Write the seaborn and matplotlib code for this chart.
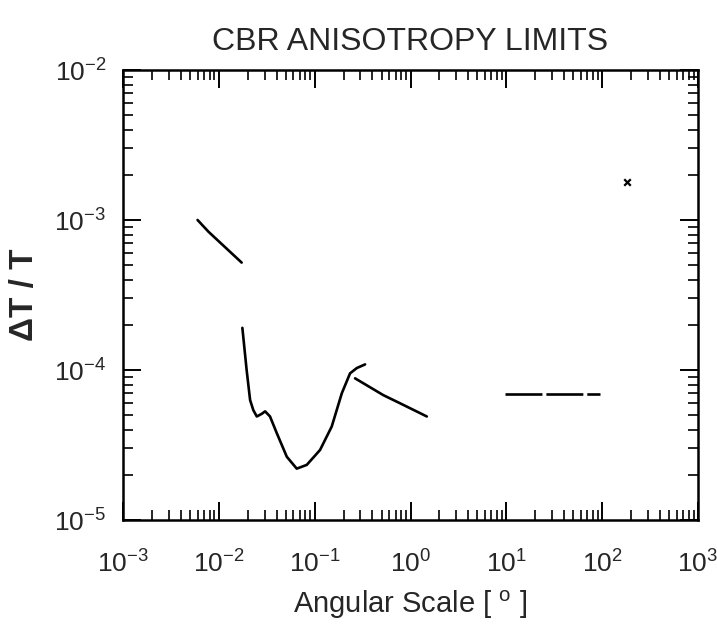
import numpy as np
import pandas as pd
import matplotlib
matplotlib.use("Agg")
import matplotlib.pyplot as plt
import matplotlib.transforms as mtransforms
import seaborn as sns
from matplotlib.ticker import LogLocator, LogFormatterSciNotation, NullFormatter

# ---- data ----
seg1_x = [0.0060, 0.0078, 0.0173]
seg1_y = [1.0e-3, 8.35e-4, 5.2e-4]

seg2_x = [0.0176, 0.0195, 0.0212, 0.0229, 0.0249, 0.0280, 0.0304, 0.0342, 0.0402,
          0.0512, 0.0650, 0.0827, 0.1138, 0.1507, 0.192, 0.234, 0.275, 0.336]
seg2_y = [1.91e-4, 1.0e-4, 6.3e-5, 5.4e-5, 4.9e-5, 5.1e-5, 5.3e-5, 4.9e-5, 3.8e-5,
          2.64e-5, 2.2e-5, 2.33e-5, 2.93e-5, 4.2e-5, 7.0e-5, 9.5e-5, 1.03e-4, 1.09e-4]

seg3_x = [0.264, 0.52, 0.778, 1.48]
seg3_y = [8.8e-5, 6.8e-5, 6.0e-5, 4.9e-5]

seg4_x = [9.7, 93.8]
seg4_y = [6.9e-5, 6.9e-5]

pt_x = [181.0]
pt_y = [1.78e-3]

title = "CBR ANISOTROPY LIMITS"
xlabel = "Angular Scale [ $^{\\mathrm{o}}$ ]"
ylabel = "ΔT / T"

# ---- style ----
sns.set_style("ticks")
plt.rcParams["font.family"] = ["Liberation Sans", "DejaVu Sans"]
plt.rcParams["mathtext.fontset"] = "custom"
plt.rcParams["mathtext.rm"] = "Liberation Sans"
plt.rcParams["mathtext.it"] = "Liberation Sans:italic"
plt.rcParams["mathtext.bf"] = "Liberation Sans:bold"

fig = plt.figure(figsize=(7.17, 6.26), dpi=100)
ax = fig.add_axes([123 / 717, 1 - 520 / 626, (698 - 123) / 717, (520 - 70) / 626])

for xs, ys in [(seg1_x, seg1_y), (seg2_x, seg2_y), (seg3_x, seg3_y)]:
    df = pd.DataFrame({"x": xs, "y": ys})
    sns.lineplot(data=df, x="x", y="y", ax=ax, color="black", lw=1.9,
                 sort=False, estimator=None)

df4 = pd.DataFrame({"x": seg4_x, "y": seg4_y})
sns.lineplot(data=df4, x="x", y="y", ax=ax, color="black", lw=1.9,
             sort=False, estimator=None)
ax.lines[-1].set_linestyle((0, (14, 1.5)))

dfp = pd.DataFrame({"x": pt_x, "y": pt_y})
sns.scatterplot(data=dfp, x="x", y="y", ax=ax, marker="x", color="black",
                s=22, linewidth=1.6)

ax.set_xscale("log")
ax.set_yscale("log")
ax.set_xlim(1e-3, 1e3)
ax.set_ylim(1e-5, 1e-2)

ax.xaxis.set_major_locator(LogLocator(base=10, numticks=10))
ax.yaxis.set_major_locator(LogLocator(base=10, numticks=10))
ax.xaxis.set_minor_locator(LogLocator(base=10, subs=np.arange(2, 10), numticks=20))
ax.yaxis.set_minor_locator(LogLocator(base=10, subs=np.arange(2, 10), numticks=20))
ax.xaxis.set_major_formatter(LogFormatterSciNotation())
ax.yaxis.set_major_formatter(LogFormatterSciNotation())
ax.xaxis.set_minor_formatter(NullFormatter())
ax.yaxis.set_minor_formatter(NullFormatter())

ax.tick_params(which="both", direction="in", top=True, right=True, color="black")
ax.tick_params(which="major", length=13, width=1.4, labelsize=19, pad=12)
ax.tick_params(which="minor", length=7, width=1.2)
ax.tick_params(axis="x", which="major", pad=22)

for s in ax.spines.values():
    s.set_linewidth(1.8)
    s.set_color("black")

ax.set_xlabel(xlabel, fontsize=21, labelpad=8)
ax.set_ylabel(ylabel, fontsize=24, fontweight="bold", labelpad=10)
fig.text(0.572, 1 - 42 / 626, title, ha="center", va="center", fontsize=23,
         family=["Liberation Sans Narrow", "Liberation Sans", "DejaVu Sans"])

# keep the rightmost x tick label inside the canvas
fig.canvas.draw()
last = [t for t in ax.get_xticklabels() if t.get_text()][-1]
last.set_transform(last.get_transform() +
                   mtransforms.ScaledTranslation(-6 / 100, 0, fig.dpi_scale_trans))

fig.savefig("out.png", dpi=100, facecolor="white")
